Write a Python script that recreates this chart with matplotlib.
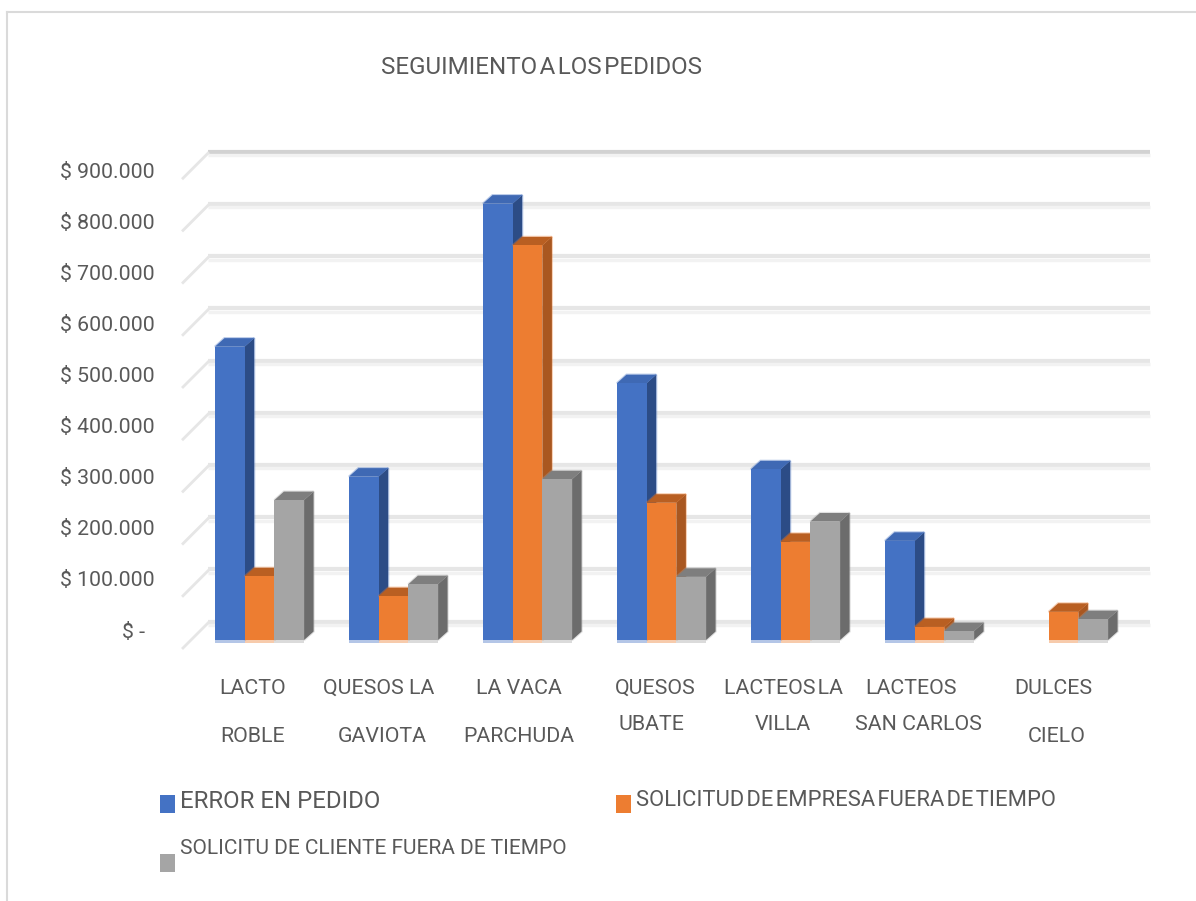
import matplotlib
matplotlib.use('Agg')
import matplotlib.pyplot as plt
from matplotlib.lines import Line2D
from matplotlib.patches import Polygon, Rectangle

W, H = 1196, 901

clientes = ['LACTO ROBLE', 'QUESOS LA GAVIOTA', 'LA VACA PARCHUDA', 'QUESOS UBATE',
            'LACTEOS LA VILLA', 'LACTEOS SAN CARLOS', 'DULCES CIELO']
error_pedido = [562000, 313000, 836000, 492000, 327000, 190000, 0]
solicitud_empresa = [122000, 84000, 756000, 263000, 188000, 25000, 54000]
solicitud_cliente = [268000, 107000, 308000, 121000, 227000, 17000, 40000]
y_ticks = [0, 100000, 200000, 300000, 400000, 500000, 600000, 700000, 800000, 900000]
y_labels = ['$ -', '$ 100.000', '$ 200.000', '$ 300.000', '$ 400.000',
            '$ 500.000', '$ 600.000', '$ 700.000', '$ 800.000', '$ 900.000']
series_names = ['ERROR EN PEDIDO',
                'SOLICITUD\u200aDE\u200aEMPRESA\u200aFUERA\u200aDE\u200aTIEMPO',
                'SOLICITU DE CLIENTE FUERA DE TIEMPO']

# front, top, side
colores = [('#4472C4', '#3F69B4', '#2C4C86'),
           ('#ED7D31', '#B95F22', '#A95720'),
           ('#A5A5A5', '#7E7E7E', '#6C6C6C')]

plt.rcParams['font.family'] = ['Roboto', 'DejaVu Sans']
texto = '#595959'

fig = plt.figure(figsize=(W / 100, H / 100), dpi=100, facecolor='white')
ax = fig.add_axes([0, 0, 1, 1])
ax.axis('off')

# one category = 134 px, 100.000 = 52.2 px, category 0 centred at x=260, zero at y=640
px_x = 1 / 134
px_y = 100000 / 52.2
ax.set_xlim(-260 * px_x, (W - 260) * px_x)
ax.set_ylim(-(H - 640) * px_y, 640 * px_y)
renderer = fig.canvas.get_renderer()


def fx(x):
    return x / W


def fy(y):
    return 1 - y / H


def talla(txt, ancho_px):
    # font size that makes txt as wide as it is in the original
    t = fig.text(0, 0, txt, fontsize=16)
    size = 16 * ancho_px / t.get_window_extent(renderer).width
    t.remove()
    return size


def poner(txt, x, y, size, ha='center'):
    return fig.text(fx(x), fy(y), txt, fontsize=size, color=texto, ha=ha, va='center')


# back wall grid, each line is a darker and a lighter band
x_back0 = (208 - 260) * px_x
x_back1 = (1150 - 260) * px_x
x_front = (183 - 260) * px_x
wall = 17 * px_y
for v in y_ticks:
    yb = v + wall
    dark = '#D2D2D2' if v == 900000 else '#E6E6E6'
    ax.plot([x_back0, x_back1], [yb + 1.5 * px_y] * 2, color=dark, lw=3, solid_capstyle='butt', zorder=1)
    ax.plot([x_back0, x_back1], [yb - 2 * px_y] * 2, color='#F2F2F2', lw=2.4, solid_capstyle='butt', zorder=1)
    ax.plot([x_front, x_back0], [yb - 25 * px_y, yb], color='#E6E6E6', lw=2, zorder=1)

# bars drawn left to right so each one hides the side of the previous
ancho = 29.7 * px_x
dx = 9.5 * px_x
dy = 8.5 * px_y
series = [error_pedido, solicitud_empresa, solicitud_cliente]
z = 2
for i in range(len(clientes)):
    for s, valores in enumerate(series):
        v = valores[i]
        if v == 0:
            continue
        x0 = i - 45 * px_x + s * ancho
        x1 = x0 + ancho
        front, top, side = colores[s]
        halo = dict(facecolor='none', edgecolor=front, alpha=0.35, lw=1.6)
        top_pts = [(x0, v), (x1, v), (x1 + dx, v + dy), (x0 + dx, v + dy)]
        side_pts = [(x1, 0), (x1 + dx, dy), (x1 + dx, v + dy), (x1, v)]
        ax.add_patch(Polygon(side_pts, closed=True, zorder=z, **halo))
        ax.add_patch(Polygon(top_pts, closed=True, zorder=z, **halo))
        ax.add_patch(Polygon(side_pts, closed=True, facecolor=side, edgecolor='none', zorder=z + 0.1))
        ax.add_patch(Polygon(top_pts, closed=True, facecolor=top, edgecolor='none', zorder=z + 0.1))
        ax.add_patch(Rectangle((x0, -3 * px_y), ancho, 3 * px_y, facecolor=front, alpha=0.4,
                               edgecolor='none', zorder=z + 0.1))
        ax.add_patch(Rectangle((x0, 0), ancho, v, facecolor=front, edgecolor='none', zorder=z + 0.2))
        z += 1

# frame of the pasted picture, only top and left survive
fig.add_artist(Line2D([fx(7), fx(7)], [fy(12), 0], color='#DADADA', lw=1.5))
fig.add_artist(Line2D([fx(7), 1], [fy(12), fy(12)], color='#DADADA', lw=1.5))

titulo = 'SEGUIMIENTO\u200aA\u200aLOS\u200aPEDIDOS'
poner(titulo, 381, 68, talla(titulo, 322), ha='left')

size_ticks = talla(y_labels[-1], 95)
for k, label in enumerate(y_labels):
    right = 145 if k == 0 else 155
    poner(label, right, 632 - 51.1 * k, size_ticks, ha='right')

# category labels were split by hand in the original, keep its uneven placement
lineas = [('LACTO', 253, 688), ('ROBLE', 253, 736),
          ('QUESOS LA', 379, 688), ('GAVIOTA', 382, 736),
          ('LA VACA', 519, 688), ('PARCHUDA', 519, 736),
          ('QUESOS', 655, 688), ('UBATE', 651, 725),
          ('LACTEOS\u200aLA', 784, 688), ('VILLA', 783, 725),
          ('LACTEOS', 911, 688), ('SAN CARLOS', 918, 725),
          ('DULCES', 1053, 688), ('CIELO', 1057, 736)]
size_cat = talla('SAN CARLOS', 127)
for txt, x, y in lineas:
    poner(txt, x, y, size_cat)

# legend, widths differ in the original so each entry is fitted on its own
leyenda = [(160, 795, 180, 801, 201), (616, 795, 636, 801, 421), (160, 854, 180, 849, 387)]
for (sx, sy, tx, ty, tw), nombre, col in zip(leyenda, series_names, colores):
    fig.add_artist(Rectangle((fx(sx), fy(sy + 18)), 14.5 / W, 18 / H, facecolor=col[0], edgecolor='none',
                             transform=fig.transFigure))
    poner(nombre, tx, ty, talla(nombre, tw), ha='left')

fig.savefig('out.png', dpi=100)
print('saved out.png')
